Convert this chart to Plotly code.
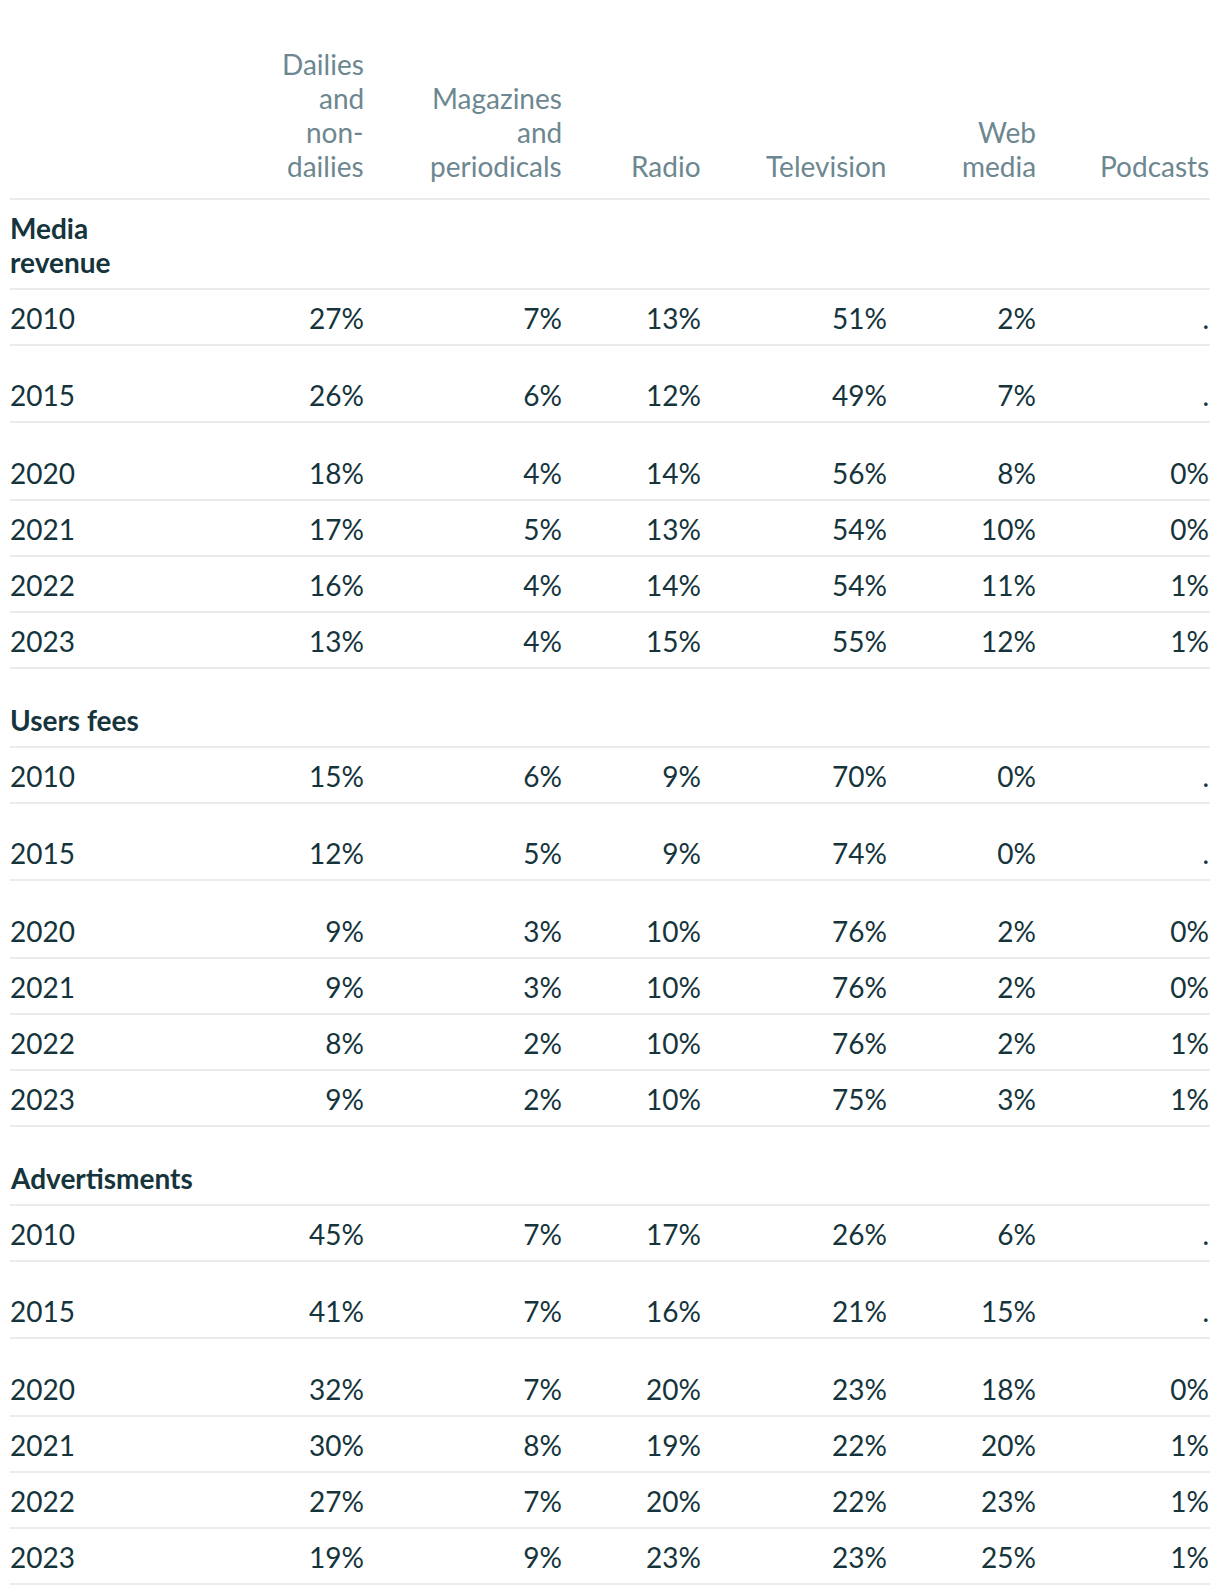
import plotly.graph_objects as go

# column headers and row labels
columns = ["Dailies<br>and<br>non-<br>dailies", "Magazines<br>and<br>periodicals",
           "Radio", "Television", "Web<br>media", "Podcasts"]
sections = ["Media<br>revenue", "Users fees", "Advertisments"]
years = ["2010", "2015", "2020", "2021", "2022", "2023"]

# shares in %, one row per year, columns as above (None = not available)
media_revenue = [
    [27, 7, 13, 51, 2, None],
    [26, 6, 12, 49, 7, None],
    [18, 4, 14, 56, 8, 0],
    [17, 5, 13, 54, 10, 0],
    [16, 4, 14, 54, 11, 1],
    [13, 4, 15, 55, 12, 1],
]
users_fees = [
    [15, 6, 9, 70, 0, None],
    [12, 5, 9, 74, 0, None],
    [9, 3, 10, 76, 2, 0],
    [9, 3, 10, 76, 2, 0],
    [8, 2, 10, 76, 2, 1],
    [9, 2, 10, 75, 3, 1],
]
advertisments = [
    [45, 7, 17, 26, 6, None],
    [41, 7, 16, 21, 15, None],
    [32, 7, 20, 23, 18, 0],
    [30, 8, 19, 22, 20, 1],
    [27, 7, 20, 22, 23, 1],
    [19, 9, 23, 23, 25, 1],
]
section_data = [media_revenue, users_fees, advertisments]

# layout (page pixels); the page body has an 8px margin
off = 8
W, H = 1220 - 2 * off, 1596 - 2 * off
left, right = 10, 1210
col_right = [364, 562, 701, 887, 1036, 1209]
header_bottom = 199
line_h = 34
year_height = {"2010": 56, "2015": 77, "2020": 78, "2021": 56, "2022": 56, "2023": 56}
section_height = [90, 79, 79]
text_up = 27
fs = 28
head_col = "#6d8790"
body_col = "#15343c"
rule_col = "#ebebeb"
font = "Lato, 'Open Sans', sans-serif"

fig = go.Figure()
annotations = []
shapes = []


def rule(y):
    shapes.append(dict(type="line", xref="x", yref="y", x0=left, x1=right, y0=y, y1=y,
                       line=dict(color=rule_col, width=2)))


def label(x, y, text, anchor, color, bold=False):
    annotations.append(dict(x=x, y=y, xref="x", yref="y",
                            text="<b>" + text + "</b>" if bold else text,
                            showarrow=False, xanchor=anchor, yanchor="middle",
                            borderpad=0, borderwidth=0,
                            font=dict(family=font, size=fs, color=color)))


# header, one annotation per text line (tighter line spacing than plotly's default)
for name, xr in zip(columns, col_right):
    parts = name.split("<br>")
    for k, part in enumerate(reversed(parts)):
        label(xr, header_bottom - 33 - k * line_h, part, "right", head_col)
rule(header_bottom)

# body rows
cell_x, cell_y, cell_t = [], [], []
y = header_bottom
for si, (sec, rows) in enumerate(zip(sections, section_data)):
    y += section_height[si]
    parts = sec.split("<br>")
    for k, part in enumerate(reversed(parts)):
        label(left, y - text_up - k * line_h, part, "left", body_col, bold=True)
    rule(y)
    for yr, vals in zip(years, rows):
        y += year_height[yr]
        cy = y - text_up
        label(left, cy, yr, "left", body_col)
        for xr, v in zip(col_right, vals):
            cell_x.append(xr)
            cell_y.append(cy + 4)
            cell_t.append("." if v is None else f"{v}%")
        rule(y)

fig.add_trace(go.Scatter(x=cell_x, y=cell_y, text=cell_t, mode="text",
                         textposition="middle left", hoverinfo="skip",
                         textfont=dict(family=font, size=fs, color=body_col)))

fig.update_layout(
    width=W, height=H, margin=dict(l=0, r=0, t=0, b=0),
    paper_bgcolor="white", plot_bgcolor="white", showlegend=False,
    xaxis=dict(range=[off, off + W], visible=False, fixedrange=True),
    yaxis=dict(range=[off + H, off], visible=False, fixedrange=True),
    annotations=annotations, shapes=shapes,
)

fig.write_html("out.html")
